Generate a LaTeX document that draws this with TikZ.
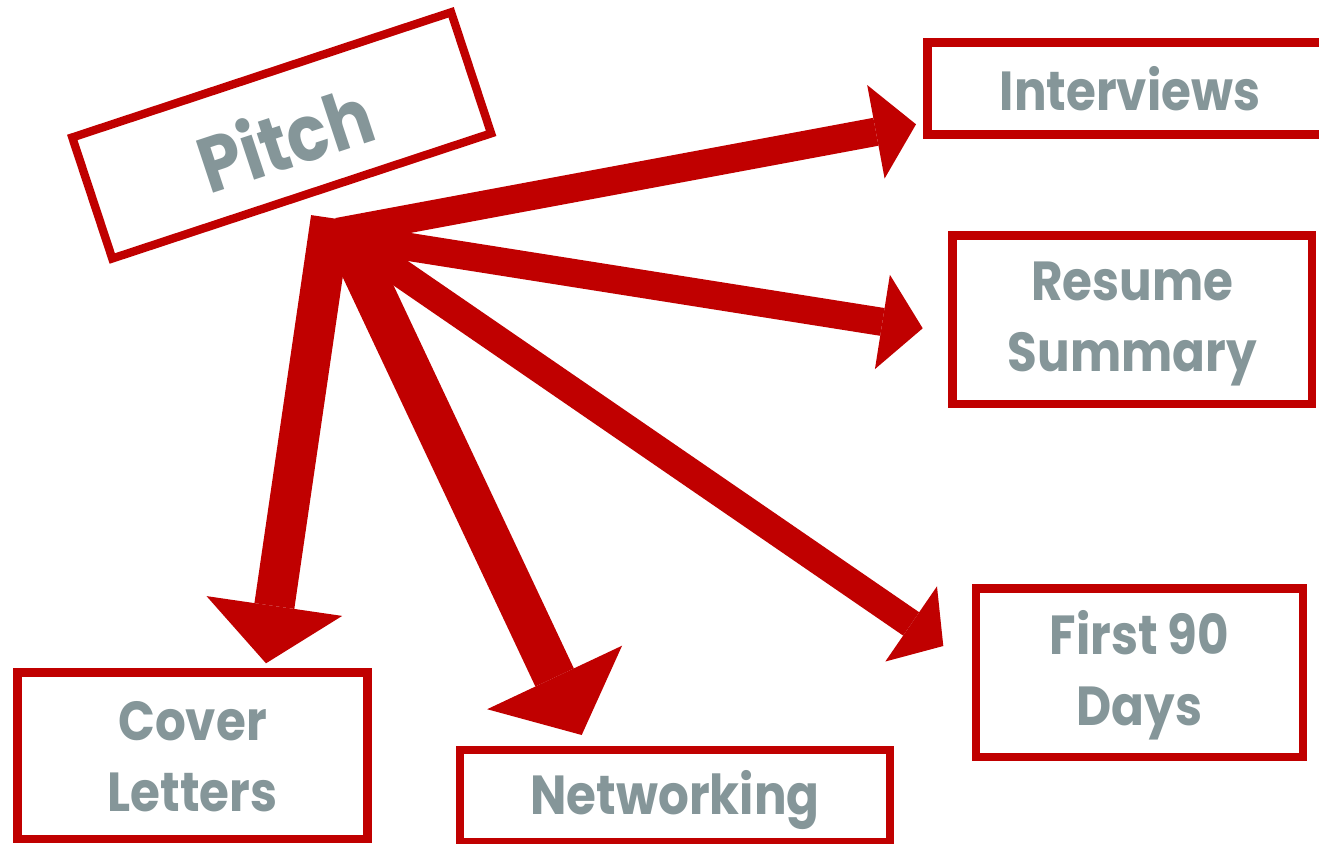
\documentclass[tikz,border=0pt]{standalone}
\usepackage{fontspec}
\setmainfont{Poppins}[FakeStretch=0.88]
\usetikzlibrary{arrows.meta}
\definecolor{boxred}{RGB}{192,0,0}
\definecolor{labelgray}{RGB}{133,150,153}
\tikzset{
  box/.style={draw=boxred, line width=8.3pt, inner sep=0pt},
  lbl/.style={inner sep=0pt, text=labelgray,
    font=\fontsize{55}{71}\selectfont\bfseries, align=center},
  bigarrow/.style={draw=boxred, line cap=butt},
}
\begin{document}
\begin{tikzpicture}[x=1pt,y=-1pt]
\useasboundingbox (0,0) rectangle (1319,843);
\fill[white] (0,0) rectangle (1319,843);
% boxes
\node[box, minimum width=403pt, minimum height=92pt] (interviews) at (1129,88.5) {};
\node[box, minimum width=359.5pt, minimum height=168.5pt] (resume) at (1132.25,319.75) {};
\node[box, minimum width=327pt, minimum height=168.5pt] (first) at (1139.5,672.75) {};
\node[box, minimum width=350pt, minimum height=166.5pt] (cover) at (192.5,755.75) {};
\node[box, minimum width=429.4pt, minimum height=92pt] (networking) at (675,796) {};
\node[box, rotate=18.28, minimum width=399pt, minimum height=127.5pt] (pitch) at (281.7,135.4) {};
% labels
\node[lbl] (interviewstext) at ([xshift=1pt]interviews.center) {Interviews};
\node[lbl] (resumetext) at ([yshift=-4pt]resume.center) {Resume\\Summary};
\node[lbl] (firsttext) at ([yshift=-3pt]first.center) {First 90\\Days};
\node[lbl] (covertext) at ([yshift=-1pt]cover.center) {Cover\\Letters};
\node[lbl] (networkingtext) at ([yshift=-4pt]networking.center) {Networking};
\node[lbl, rotate=18.28, font=\fontsize{78}{78}\selectfont\bfseries] (pitchtext)
  at ([xshift=3pt,yshift=-2pt]pitch.center) {Pitch};
% arrows
\coordinate (s1) at (338,232);   \coordinate (t1) at (916,124.3);
\coordinate (s2) at (340,236);   \coordinate (t2) at (922.7,328.3);
\coordinate (s3) at (345,235);   \coordinate (t3) at (943.3,646);
\coordinate (s4) at (343,228);   \coordinate (t4) at (581.7,735);
\coordinate (s5) at (331,218);   \coordinate (t5) at (266,663.3);
\draw[bigarrow, line width=28.4pt, -{Triangle[length=40.8pt,width=95.1pt,line width=0pt]}] (s1) -- (t1);
\draw[bigarrow, line width=28.1pt, -{Triangle[length=40.8pt,width=95.5pt,line width=0pt]}] (s2) -- (t2);
\draw[bigarrow, line width=28.3pt, -{Triangle[length=39pt,width=91.2pt,line width=0pt]}] (s3) -- (t3);
\draw[bigarrow, line width=42.5pt, -{Triangle[length=63.6pt,width=149.1pt,line width=0pt]}] (s4) -- (t4);
\draw[bigarrow, line width=40.3pt, -{Triangle[length=57.9pt,width=137.1pt,line width=0pt]}] (s5) -- (t5);
\end{tikzpicture}
\end{document}
